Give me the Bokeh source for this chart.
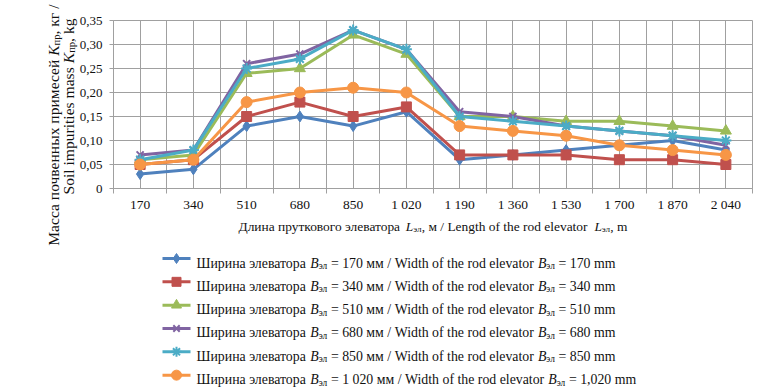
import os, glob, struct, math
from bokeh.plotting import figure
from bokeh.models import Range1d, FixedTicker, Label, CustomJSTickFormatter, Grid
from bokeh.embed import file_html
from bokeh.resources import INLINE

# ---------------- data ----------------
lengths = ["170", "340", "510", "680", "850", "1 020", "1 190", "1 360",
           "1 530", "1 700", "1 870", "2 040"]
w170 = [0.03, 0.04, 0.13, 0.15, 0.13, 0.16, 0.06, 0.07, 0.08, 0.09, 0.10, 0.08]
w340 = [0.05, 0.06, 0.15, 0.18, 0.15, 0.17, 0.07, 0.07, 0.07, 0.06, 0.06, 0.05]
w510 = [0.06, 0.07, 0.24, 0.25, 0.32, 0.28, 0.15, 0.15, 0.14, 0.14, 0.13, 0.12]
w680 = [0.07, 0.08, 0.26, 0.28, 0.33, 0.29, 0.16, 0.15, 0.13, 0.12, 0.11, 0.09]
w850 = [0.06, 0.08, 0.25, 0.27, 0.33, 0.29, 0.15, 0.14, 0.13, 0.12, 0.11, 0.10]
w1020 = [0.05, 0.06, 0.18, 0.20, 0.21, 0.20, 0.13, 0.12, 0.11, 0.09, 0.08, 0.07]
series = [w170, w340, w510, w680, w850, w1020]
width_ru = ["170", "340", "510", "680", "850", "1 020"]
width_en = ["170", "340", "510", "680", "850", "1,020"]
y_ticks = [0, 0.05, 0.10, 0.15, 0.20, 0.25, 0.30, 0.35]
Y_MAX = 0.35

colors = ["#4F81BD", "#C0504D", "#9BBB59", "#8064A2", "#4BACC6", "#F79646"]
markers = ["diamond", "square", "triangle", "x", "asterisk", "circle"]
msizes = [11, 10, 11, 10, 11, 11]

FONT = "Liberation Serif, Times New Roman, DejaVu Serif, serif"
TXT = "#111111"
GRID = "#a0a0a0"

# ---------------- font metrics (for placing sub/italic pieces) ----------------
def _find(name):
    for base in ["/usr/share/fonts", "/usr/local/share/fonts",
                 os.path.expanduser("~/.fonts"), os.path.expanduser("~/.local/share/fonts")]:
        r = glob.glob(os.path.join(base, "**", name), recursive=True)
        if r:
            return r[0]
    return None

def _load(name):
    path = _find(name)
    if path is None:
        return None
    try:
        d = open(path, "rb").read()
        nt = struct.unpack(">H", d[4:6])[0]
        tabs = {}
        for i in range(nt):
            tag, cs, off, ln = struct.unpack(">4sIII", d[12 + 16 * i:28 + 16 * i])
            tabs[tag.decode("latin-1")] = off
        upm = struct.unpack(">H", d[tabs["head"] + 18:tabs["head"] + 20])[0]
        nhm = struct.unpack(">H", d[tabs["hhea"] + 34:tabs["hhea"] + 36])[0]
        hm = tabs["hmtx"]
        adv = [struct.unpack(">H", d[hm + 4 * i:hm + 4 * i + 2])[0] for i in range(nhm)]
        cm = tabs["cmap"]
        n = struct.unpack(">H", d[cm + 2:cm + 4])[0]
        sub = None
        for i in range(n):
            pid, eid, off = struct.unpack(">HHI", d[cm + 4 + 8 * i:cm + 12 + 8 * i])
            if pid == 3 and eid == 1:
                sub = cm + off
        if sub is None or struct.unpack(">H", d[sub:sub + 2])[0] != 4:
            return None
        sx2 = struct.unpack(">H", d[sub + 6:sub + 8])[0]
        seg = sx2 // 2
        ends = struct.unpack(">%dH" % seg, d[sub + 14:sub + 14 + sx2])
        starts = struct.unpack(">%dH" % seg, d[sub + 16 + sx2:sub + 16 + 2 * sx2])
        deltas = struct.unpack(">%dh" % seg, d[sub + 16 + 2 * sx2:sub + 16 + 3 * sx2])
        rp = sub + 16 + 3 * sx2
        roffs = struct.unpack(">%dH" % seg, d[rp:rp + sx2])

        def gid(c):
            for i in range(seg):
                if c <= ends[i]:
                    if c < starts[i]:
                        return 0
                    if roffs[i] == 0:
                        return (c + deltas[i]) & 0xFFFF
                    a = rp + 2 * i + roffs[i] + 2 * (c - starts[i])
                    g = struct.unpack(">H", d[a:a + 2])[0]
                    return (g + deltas[i]) & 0xFFFF if g else 0
            return 0

        def width(s, size):
            t = 0
            for ch in s:
                g = gid(ord(ch))
                t += adv[min(g, nhm - 1)]
            return t * size / upm
        return width
    except Exception:
        return None

_wr = _load("LiberationSerif-Regular.ttf")
_wi = _load("LiberationSerif-Italic.ttf") or _wr

def tw(s, size, italic=False):
    f = _wi if italic else _wr
    if f is None:
        return len(s) * size * 0.45
    return f(s, size)

SUB = 0.68

def pieces_layout(pieces, S):
    out, x = [], 0.0
    for t, k in pieces:
        size = S * SUB if k == "s" else S
        it = (k == "i")
        stripped = t.lstrip(" ")
        lead = tw(t[:len(t) - len(stripped)], size, it)
        shift = S * 0.22 if k == "s" else 0.0
        if stripped.strip():
            out.append((x + lead, shift, stripped.rstrip(" "), size, "italic" if it else "normal"))
        x += tw(t, size, it)
    return out, x

def fit_size(pieces, target, lo, hi):
    _, w1 = pieces_layout(pieces, 1.0)
    if w1 <= 0:
        return (lo + hi) / 2
    return max(lo, min(hi, target / w1))

# ---------------- geometry (page pixels) ----------------
OX, OY = 0, 0                # page offset of the canvas
W, H = 768 - OX, 389 - OY
PX0, PX1, PY0, PY1 = 113, 752, 20, 188   # plot area in page pixels
n = len(lengths)
kx = (PX1 - PX0) / n          # px per category
ky = (PY1 - PY0) / Y_MAX      # px per unit

def dx(px):
    return -0.5 + (px - PX0) / kx

def dy(py):
    return (PY1 - py) / ky

xs = list(range(n))
p = figure(width=W, height=H, title=None,
           x_range=Range1d(dx(OX), dx(OX + W)), y_range=Range1d(dy(OY + H), dy(OY)),
           output_backend="svg", toolbar_location=None, min_border=0)
p.background_fill_color = "white"
p.border_fill_color = "white"
p.outline_line_color = None

xa, ya = p.xaxis[0], p.yaxis[0]
xa.fixed_location = 0
xa.bounds = (-0.5, n - 0.5)
ya.fixed_location = -0.5
ya.bounds = (0, Y_MAX)

xa.ticker = FixedTicker(ticks=xs, minor_ticks=[i - 0.5 for i in range(n + 1)])
xa.major_label_overrides = {i: lab for i, lab in enumerate(lengths)}
xa.major_tick_line_color = None
xa.major_tick_out = 5
xa.major_tick_in = 0
xa.minor_tick_in = 0
xa.minor_tick_out = 5
xa.minor_tick_line_color = GRID
xa.major_label_standoff = 3
xa.major_label_text_font_size = "13.5px"

ya.ticker = FixedTicker(ticks=y_ticks)
ya.formatter = CustomJSTickFormatter(
    code="return tick < 1e-9 ? '0' : tick.toFixed(2).replace('.', ',');")
ya.major_tick_in = 0
ya.major_tick_out = 4
ya.major_tick_line_color = GRID
ya.minor_tick_line_color = None
ya.major_label_standoff = 7
ya.major_label_text_font_size = "13px"

for ax in (xa, ya):
    ax.axis_line_color = GRID
    ax.major_label_text_font = FONT
    ax.major_label_text_color = TXT

# grid, limited to the plot area
x_grid_ticks = [i * 0.5 - 0.5 for i in range(2 * n + 1)]
has_cross = "cross_bounds" in Grid.properties()
for g in list(p.grid):
    g.visible = False
if has_cross:
    p.add_layout(Grid(dimension=0, ticker=FixedTicker(ticks=x_grid_ticks), bounds=(-0.5, n - 0.5),
                      cross_bounds=(0, Y_MAX), grid_line_color=GRID, grid_line_width=1))
    p.add_layout(Grid(dimension=1, ticker=FixedTicker(ticks=y_ticks), bounds=(0, Y_MAX),
                      cross_bounds=(-0.5, n - 0.5), grid_line_color=GRID, grid_line_width=1))
else:
    p.segment(x0=x_grid_ticks, y0=[0] * len(x_grid_ticks), x1=x_grid_ticks,
              y1=[Y_MAX] * len(x_grid_ticks), line_color=GRID, line_width=1)
    p.segment(x0=[-0.5] * len(y_ticks), y0=y_ticks, x1=[n - 0.5] * len(y_ticks), y1=y_ticks,
              line_color=GRID, line_width=1)

for vals, c, m, ms in zip(series, colors, markers, msizes):
    p.line(xs, vals, line_color=c, line_width=3)
    lw = 2 if m in ("x", "asterisk") else 1
    p.scatter(xs, vals, marker=m, size=ms, fill_color=c, line_color=c, line_width=lw)

def put(segs, x0, y0, rotated=False):
    for off, sh, t, size, st in segs:
        if rotated:
            X, Y = dx(x0 + sh), dy(y0 - off)
        else:
            X, Y = dx(x0 + off), dy(y0 + sh)
        p.add_layout(Label(x=X, y=Y, text=t, text_font=FONT, text_font_size="%.2fpx" % size,
                           text_font_style=st, text_color=TXT, text_align="left",
                           text_baseline="alphabetic", angle=(math.pi / 2 if rotated else 0)))

# x-axis title
xt = [("Длина пруткового элеватора ", "n"), ("L", "i"), ("эл", "s"),
      (", м /  Length of the rod elevator ", "n"), ("L", "i"), ("эл", "s"), (", m", "n")]
XS = fit_size(xt, 389, 12.5, 15)
segs, tot = pieces_layout(xt, XS)
put(segs, (PX0 + PX1) / 2 - tot / 2, 226)

# y-axis title (two rotated lines)
yl1 = [("Масса почвенных примесей ", "n"), ("K", "i"), ("пр", "s"), (", кг /", "n")]
yl2 = [("Soil impurities mass ", "n"), ("K", "i"), ("пр", "s"), (", kg", "n")]
YS = fit_size(yl2, 176, 13, 16)
segs1, tot1 = pieces_layout(yl1, YS)
put(segs1, 53, min(4 + tot1, 106 + tot1 / 2 + 40), rotated=True)
segs2, tot2 = pieces_layout(yl2, YS)
put(segs2, 68, 106 + tot2 / 2, rotated=True)

# legend
ly0, ldy = 258, 23.33
ix0, ix1, tx0 = 162, 190, 196
for i, (c, m) in enumerate(zip(colors, markers)):
    yy = ly0 + i * ldy
    p.line([dx(ix0), dx(ix1)], [dy(yy), dy(yy)], line_color=c, line_width=3)
    lw = 2 if m in ("x", "asterisk") else 1
    p.scatter([dx((ix0 + ix1) / 2)], [dy(yy)], marker=m, size=msizes[i] - 1,
              fill_color=c, line_color=c, line_width=lw)
    pcs = [("Ширина элеватора ", "n"), ("B", "i"), ("эл", "s"),
           (" = %s мм / Width of the rod elevator " % width_ru[i], "n"), ("B", "i"), ("эл", "s"),
           (" = %s mm" % width_en[i], "n")]
    if i == 0:
        LS = fit_size(pcs, 419, 12.5, 15)
    segs, tot = pieces_layout(pcs, LS)
    put(segs, tx0, yy + 4.5)

open("out.html", "w").write(file_html(p, INLINE))
